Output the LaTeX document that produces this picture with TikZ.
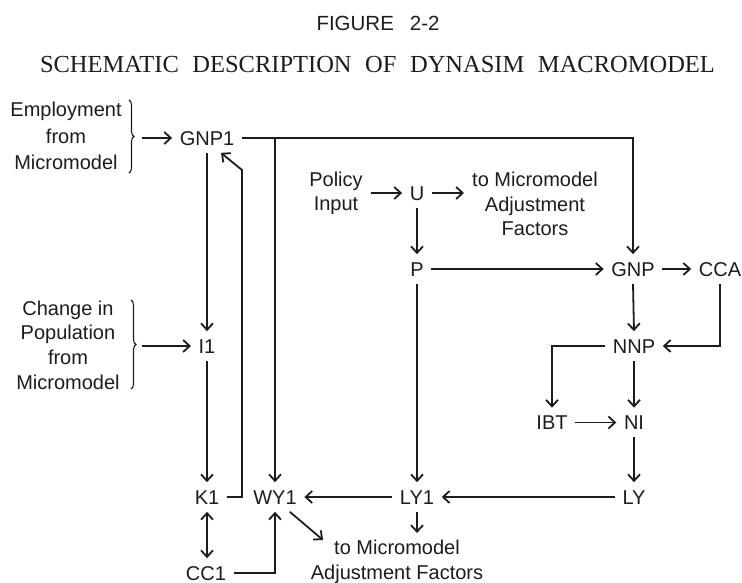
\documentclass[tikz,border=0pt]{standalone}
\usepackage{fontspec}
\setmainfont{Liberation Sans}
\newfontfamily\serifttl{Liberation Serif}
\usetikzlibrary{arrows.meta,decorations.pathreplacing}
\definecolor{ink}{RGB}{28,28,28}
\begin{document}
\begin{tikzpicture}[x=1pt,y=-1pt,color=ink,
  lbl/.style={font=\fontsize{20}{24}\selectfont, inner sep=7.5pt, text height=14.3pt, text depth=0pt},
  multi/.style={align=center, inner sep=0pt},
  arr/.style={line width=1.8pt, -{Straight Barb[length=6.5pt,width=12pt]}},
  dbl/.style={line width=1.8pt, {Straight Barb[length=6.5pt,width=12pt]}-{Straight Barb[length=6.5pt,width=12pt]}},
  brc/.style={line width=1.1pt, decorate, decoration={brace, amplitude=5pt}}]
\useasboundingbox (0,0) rectangle (742,583);

% titles
\node[font=\fontsize{20.5}{20.5}\selectfont] (title) at (378,23) {\makebox[123pt][s]{FIGURE 2-2}};
\node[font=\serifttl\fontsize{24.5}{24.5}\selectfont] (subtitle) at (377.5,65)
  {\makebox[675pt][s]{SCHEMATIC DESCRIPTION OF DYNASIM MACROMODEL}};

% single-line nodes
\node[lbl] (GNP1) at (207,138) {GNP1};
\node[lbl] (I1) at (207,346) {I1};
\node[lbl] (K1) at (207,497) {K1};
\node[lbl] (CC1) at (206,573) {CC1};
\node[lbl] (WY1) at (275,497) {WY1};
\node[lbl] (LY1) at (417,497) {LY1};
\node[lbl] (LY) at (634,497) {LY};
\node[lbl] (U) at (417,193) {U};
\node[lbl] (P) at (417,269) {P};
\node[lbl] (GNP) at (633,269) {GNP};
\node[lbl] (CCA) at (720,269) {CCA};
\node[lbl] (NNP) at (634,346) {NNP};
\node[lbl] (IBT) at (552,422.5) {IBT};
\node[lbl] (NI) at (634,422.5) {NI};

% multi-line nodes
\node[multi, font=\fontsize{20}{26.5}\selectfont] (emp) at (66,136) {Employment\\from\\Micromodel};
\node[multi, font=\fontsize{20}{24.7}\selectfont] (chg) at (68,345) {Change in\\Population\\from\\Micromodel};
\node[multi, font=\fontsize{20}{24}\selectfont, inner sep=8pt] (pol) at (336,193) {Policy\\Input};
\node[multi, font=\fontsize{20}{24.5}\selectfont, inner sep=8pt] (tm1) at (535,204) {to Micromodel\\Adjustment\\Factors};
\node[multi, font=\fontsize{20}{25}\selectfont, inner sep=7pt] (tm2) at (397,562) {to Micromodel\\Adjustment Factors};

% braces
\draw[brc] (129,100) -- (129,173);
\draw[brc] (131,300) -- (131,389);
\coordinate (e1) at (142,138);
\coordinate (e2) at (142,346);
\draw[arr] (e1) -- (GNP1.west);
\draw[arr] (e2) -- (I1.west);

% connectors
\draw[arr] (GNP1.east) -| (GNP.north);
\draw[arr] (WY1.north |- GNP1.east) -- (WY1.north);
\draw[arr] (GNP1.south) -- (GNP1.south |- I1.north);
\draw[arr] (I1.south) -- (K1.north);
\coordinate (kb) at (242,170);
\draw[arr] (K1.east) -| (kb) -- ([xshift=14pt]GNP1.south);
\draw[dbl] (K1.south) -- (K1.south |- CC1.north);
\draw[arr] (CC1.east) -| (WY1.south);
\coordinate (t2) at (323,540);
\draw[arr] (WY1.-45) -- (t2);
\draw[arr] (LY1.south) -- (LY1.south |- tm2.north);
\draw[arr] (LY1.west) -- (WY1.east);
\draw[arr] (P.south) -- (LY1.north);
\draw[arr] (U.south) -- (P.north);
\draw[arr] (pol.east |- U.west) -- (U.west);
\draw[arr] (U.east) -- (U.east -| tm1.west);
\draw[arr] (P.east) -- (GNP.west);
\draw[arr] (GNP.east) -- (CCA.west);
\draw[arr] (CCA.south) |- (NNP.east);
\draw[arr] (GNP.south) -- (NNP.north);
\draw[arr] (NNP.west) -| (IBT.north);
\draw[arr] (IBT.east) -- (NI.west);
\draw[arr] (NNP.south) -- (NI.north);
\draw[arr] (NI.south) -- (LY.north);
\draw[arr] (LY.west) -- (LY1.east);
\end{tikzpicture}
\end{document}
